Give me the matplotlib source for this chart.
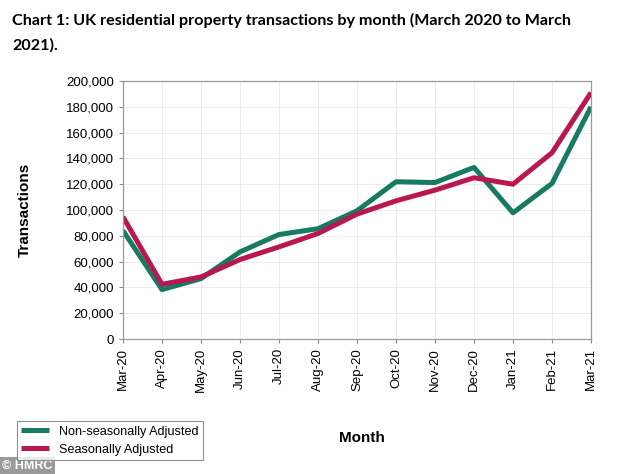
import matplotlib.pyplot as plt
from matplotlib.ticker import FuncFormatter

months = ['Mar-20', 'Apr-20', 'May-20', 'Jun-20', 'Jul-20', 'Aug-20', 'Sep-20',
          'Oct-20', 'Nov-20', 'Dec-20', 'Jan-21', 'Feb-21', 'Mar-21']
non_seasonal = [84000, 38300, 46800, 67500, 81000, 85500, 99400,
                121900, 121300, 133000, 97800, 120600, 180000]
seasonal = [94700, 42400, 48100, 61600, 71400, 81800, 96800,
            107100, 115400, 125000, 120000, 144400, 191000]

green = '#177a62'
red = '#b8184f'

plt.rcParams['font.family'] = ['Liberation Sans', 'DejaVu Sans']

fig = plt.figure(figsize=(6.34, 4.74), dpi=100)
ax = fig.add_axes([123 / 634, 1 - 339 / 474, (591 - 123) / 634, (339 - 81) / 474])

x = list(range(len(months)))
ax.plot(x, non_seasonal, color=green, lw=3.6, solid_capstyle='butt',
        label='Non-seasonally Adjusted')
ax.plot(x, seasonal, color=red, lw=3.6, solid_capstyle='butt',
        label='Seasonally Adjusted')

ax.set_xlim(0, len(months) - 1)
ax.set_ylim(0, 200000)
ax.set_yticks(range(0, 200001, 20000))
ax.yaxis.set_major_formatter(FuncFormatter(lambda v, p: '{:,.0f}'.format(v)))
ax.set_xticks(x)
ax.set_xticklabels(months, rotation=90)
ax.tick_params(axis='both', labelsize=9.5, color='#888888', length=3, width=0.8)
ax.grid(True, color='#ececec', lw=0.7)
ax.set_axisbelow(True)
for s in ax.spines.values():
    s.set_color('#999999')
    s.set_linewidth(0.9)

fig.text(25 / 634, 1 - 210 / 474, 'Transactions', rotation=90, ha='center', va='center',
         fontsize=11, fontweight='bold')
fig.text(362 / 634, 1 - 438 / 474, 'Month', ha='center', va='center',
         fontsize=11, fontweight='bold')

fig.text(12 / 634, 1 - 20 / 474,
         'Chart 1: UK residential property transactions by month (March 2020 to March',
         fontsize=11.6, fontweight='bold', family=['Lato', 'DejaVu Sans'],
         va='center', ha='left')
fig.text(12 / 634, 1 - 45 / 474, '2021).',
         fontsize=11.6, fontweight='bold', family=['Lato', 'DejaVu Sans'],
         va='center', ha='left')

leg = fig.legend(loc='lower left', bbox_to_anchor=(17 / 634, 1 - 460 / 474),
                 frameon=True, fancybox=False, edgecolor='#777777', fontsize=9.1,
                 handlelength=2.2, borderaxespad=0, labelspacing=0.45,
                 borderpad=0.35)
leg.get_frame().set_linewidth(0.8)

fig.text(0.003, 0.004, '\u00a9 HMRC', fontsize=9, fontweight='bold', color='white',
         ha='left', va='bottom',
         bbox=dict(boxstyle='square,pad=0.25', fc='#9a9a9a', ec='none'))

fig.savefig('out.png', dpi=100)
